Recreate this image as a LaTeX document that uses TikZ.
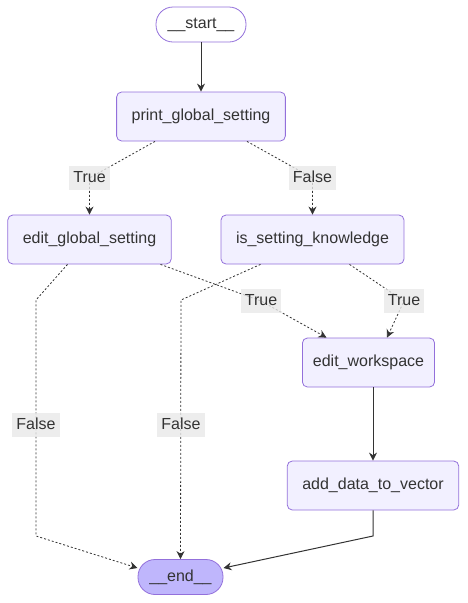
\documentclass[tikz,border=0pt]{standalone}
\usepackage{fontspec}
\setmainfont{Liberation Sans}
\usetikzlibrary{arrows.meta,positioning}
\definecolor{nodeedge}{HTML}{9370DB}
\definecolor{nodefill}{HTML}{F2F0FF}
\definecolor{endfill}{HTML}{BFB6FC}
\definecolor{inkgray}{HTML}{333333}
\definecolor{labelgray}{HTML}{E8E8E8}

\begin{document}
\begin{tikzpicture}[x=1pt,y=-1pt,
			stepbox/.style={draw=nodeedge, thick, rounded corners=5pt,
				fill=nodefill, minimum height=49pt, inner xsep=15pt,
				text height=12pt, text depth=4pt, text=inkgray,
				font=\fontsize{16}{19}\selectfont},
			termbox/.style={stepbox, rounded corners=17pt, minimum height=35pt,
				inner xsep=9pt},
			lbl/.style={fill=labelgray, fill opacity=0.8, text opacity=1,
				inner sep=4pt, text height=12pt, text depth=4pt, text=inkgray,
				font=\fontsize{16}{19}\selectfont},
			arrow/.style={-{Stealth[length=8pt,width=8pt]}, inkgray, line width=1pt},
			dotarrow/.style={arrow, line width=0.8pt, dash pattern=on 2pt off 2pt}
		]
			\useasboundingbox (0,0) rectangle (467,603);
			\node[termbox, fill=white, minimum width=90pt] (start) at (201,24.5) {\_\_start\_\_};
			\node[stepbox] (pgs) at (201,116.5) {print\_global\_setting};
			\node[stepbox] (egs) at (89.5,239.5) {edit\_global\_setting};
			\node[stepbox] (isk) at (312.5,239.5) {is\_setting\_knowledge};
			\node[stepbox, inner xsep=10.5pt] (ews) at (368.5,362.5) {edit\_workspace};
			\node[stepbox] (adv) at (373,485.5) {add\_data\_to\_vector};
			\node[termbox, fill=endfill, minimum width=85pt] (end) at (180.5,577) {\_\_end\_\_};
			% bends of the edges
			\coordinate (b1) at (89.5,178);
			\coordinate (b2) at (312.5,178);
			\coordinate (b3) at (36,300);
			\coordinate (b4) at (36,536);
			\coordinate (b5) at (261,301);
			\coordinate (b6) at (181,300);
			\coordinate (b7) at (404,301);
			\coordinate (b8) at (373,536);
			\draw[arrow] (start) -- (pgs);
			\draw[dotarrow] ([xshift=-46pt]pgs.south) -- (b1) -- (egs.north);
			\draw[dotarrow] ([xshift=46pt]pgs.south) -- (b2) -- (isk.north);
			\draw[dotarrow] ([xshift=-22pt]egs.south) -- (b3) -- (b4)
				-- ([xshift=-43pt,yshift=9pt]end.center);
			\draw[dotarrow] ([xshift=71pt]egs.south) -- (b5) -- ([xshift=-42pt]ews.north);
			\draw[dotarrow] ([xshift=-52pt]isk.south) -- (b6) -- (end.north);
			\draw[dotarrow] ([xshift=37pt]isk.south) -- (b7) -- ([xshift=18.5pt]ews.north);
			\draw[arrow] ([xshift=4.5pt]ews.south) -- (adv.north);
			\draw[arrow] (adv.south) -- (b8) -- ([xshift=43pt,yshift=9pt]end.center);
			% edge labels
			\node[lbl] (l1) at (b1) {True};
			\node[lbl] (l2) at (b2) {False};
			\node[lbl] (l3) at (36,425) {False};
			\node[lbl] (l4) at (b5) {True};
			\node[lbl] (l5) at (181,425) {False};
			\node[lbl] (l6) at (b7) {True};
		\end{tikzpicture}
\end{document}
